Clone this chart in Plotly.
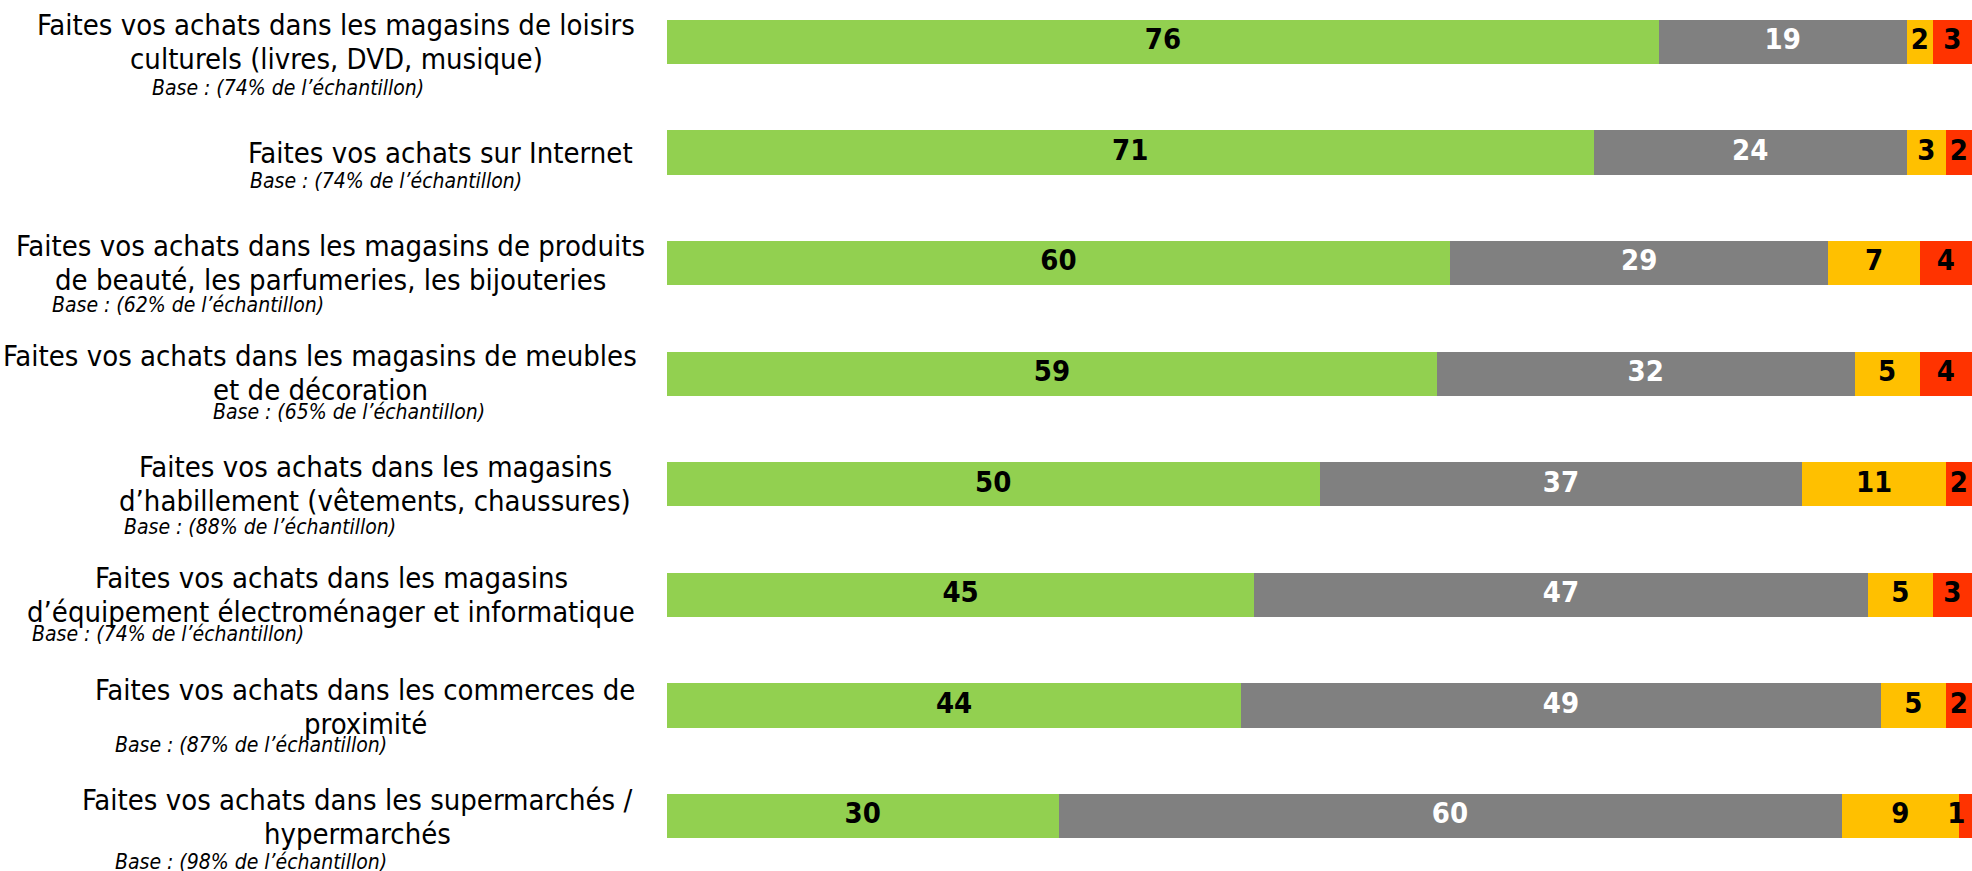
import plotly.graph_objects as go

# rows, top to bottom
labels = [
    ["Faites vos achats dans les magasins de loisirs", "culturels (livres, DVD, musique)"],
    ["Faites vos achats sur Internet"],
    ["Faites vos achats dans les magasins de produits", "de beauté, les parfumeries, les bijouteries"],
    ["Faites vos achats dans les magasins de meubles", "et de décoration"],
    ["Faites vos achats dans les magasins", "d’habillement (vêtements, chaussures)"],
    ["Faites vos achats dans les magasins", "d’équipement électroménager et informatique"],
    ["Faites vos achats dans les commerces de", "proximité"],
    ["Faites vos achats dans les supermarchés /", "hypermarchés"],
]
bases = ["74%", "74%", "62%", "65%", "88%", "74%", "87%", "98%"]

green = [76, 71, 60, 59, 50, 45, 44, 30]
gray = [19, 24, 29, 32, 37, 47, 49, 60]
yellow = [2, 3, 7, 5, 11, 5, 5, 9]
red = [3, 2, 4, 4, 2, 3, 2, 1]

rows = list(range(len(labels)))

W, H = 1972, 871
PLOT_LEFT = 667
FONT = "DejaVu Sans Condensed, DejaVu Sans, sans-serif"

fig = go.Figure()
series = [
    (green, "#92D050", "black"),
    (gray, "#808080", "white"),
    (yellow, "#FFC000", "black"),
    (red, "#FF3300", "black"),
]
start = [0] * len(rows)
for vals, col, tcol in series:
    fig.add_trace(go.Bar(
        x=vals, y=rows, orientation="h", width=0.4,
        marker=dict(color=col, line=dict(width=0)),
        showlegend=False, hoverinfo="skip",
    ))
    # value labels centred on each segment (tiny segments: keep text inside the figure)
    mids = [s + v / 2 for s, v in zip(start, vals)]
    pos = ["middle left" if (s + v >= 100 and v < 2) else "middle center"
           for s, v in zip(start, vals)]
    fig.add_trace(go.Scatter(
        x=mids, y=rows, mode="text", text=[str(v) for v in vals],
        textposition=pos, cliponaxis=False,
        textfont=dict(family=FONT, size=29, color=tcol, weight="bold"),
        showlegend=False, hoverinfo="skip",
    ))
    start = [s + v for s, v in zip(start, vals)]


def px_to_paper(px):
    return (px - PLOT_LEFT) / (W - PLOT_LEFT)


# label block centres (px), vertical nudge, base text left edge / offset below bar centre
label_cx = [336, 440, 330, 320, 375, 331, 365, 357]
label_dy = [0, 0, 0, 1, 0, 0, -2, -1]
base_x = [150, 248, 50, 211, 122, 30, 113, 113]
base_dy = [46, 28, 42, 38, 43, 39, 40, 46]
LINE = 34

for i in rows:
    n = len(labels[i])
    for k, line in enumerate(labels[i]):
        off = (k - (n - 1) / 2) * LINE
        fig.add_annotation(
            x=px_to_paper(label_cx[i]), xref="paper", y=i, yref="y",
            yshift=-off + label_dy[i],
            text=line, showarrow=False, xanchor="center", yanchor="middle",
            font=dict(family=FONT, size=29, color="black"),
        )
    fig.add_annotation(
        x=px_to_paper(base_x[i]), xref="paper", y=i, yref="y", yshift=-base_dy[i],
        text="<i>Base : (" + bases[i] + " de l’échantillon)</i>", showarrow=False,
        xanchor="left", yanchor="middle",
        font=dict(family=FONT, size=21, color="black"),
    )

fig.update_layout(
    barmode="stack",
    width=W, height=H,
    margin=dict(l=PLOT_LEFT, r=0, t=0, b=0),
    paper_bgcolor="white", plot_bgcolor="white",
    xaxis=dict(range=[0, 100], visible=False, fixedrange=True),
    yaxis=dict(range=[7.497, -0.38], visible=False, fixedrange=True),
)

fig.write_html("out.html", config={"displayModeBar": False},
               post_script="document.body.style.margin='0';")
